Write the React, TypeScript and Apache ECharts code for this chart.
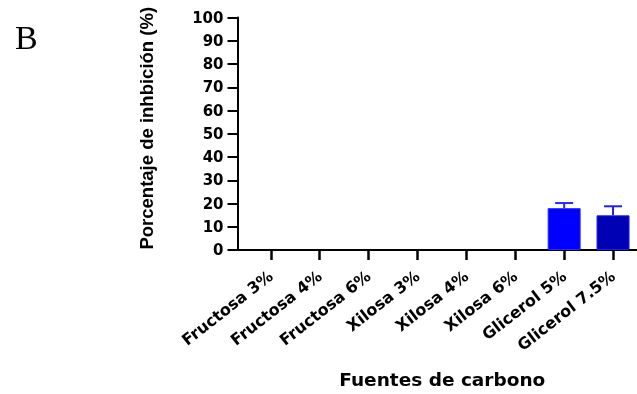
import React, { useEffect, useRef } from "react";
import * as echarts from "echarts";

const categories = [
  "Fructosa 3%",
  "Fructosa 4%",
  "Fructosa 6%",
  "Xilosa 3%",
  "Xilosa 4%",
  "Xilosa 6%",
  "Glicerol 5%",
  "Glicerol 7.5%",
];
const inhibition = [0, 0, 0, 0, 0, 0, 18.0, 14.9];
const errorUp = [0, 0, 0, 0, 0, 0, 2.2, 3.9];
const barColors = ["#0000FF", "#0000FF", "#0000FF", "#0000FF", "#0000FF", "#0000FF", "#0000FF", "#0000B4"];
const errColors = ["#2a2aff", "#2a2aff", "#2a2aff", "#2a2aff", "#2a2aff", "#2a2aff", "#2a2aff", "#1f1fe6"];
const yMin = 0;
const yMax = 100;
const yInterval = 10;

const X_OFFSET = 0.68;
const X_MAX = 8.17;

export default function App() {
  const ref = useRef<HTMLDivElement>(null);
  useEffect(() => {
    document.body.style.margin = "0";
    const chart = echarts.init(ref.current!, null, { renderer: "svg" });
    const xs = categories.map((_, i) => i + X_OFFSET);
    const sans = "DejaVu Sans";
    chart.setOption({
      animation: false,
      grid: { left: 237.5, right: 0, top: 17.5, bottom: 143.3, containLabel: false },
      xAxis: {
        type: "value",
        min: 0,
        max: X_MAX,
        splitLine: { show: false },
        axisLine: { show: true, lineStyle: { color: "#000", width: 2 } },
        axisTick: { show: true, length: 10, lineStyle: { color: "#000", width: 2.5 }, customValues: xs },
        axisLabel: {
          customValues: xs,
          rotate: 38,
          margin: 24,
          color: "#000",
          fontFamily: sans,
          fontWeight: "bold",
          fontSize: 16,
          formatter: (v: number) => categories[Math.round(v - X_OFFSET)] ?? "",
        },
        name: "Fuentes de carbono",
        nameLocation: "middle",
        nameGap: 120,
        nameTextStyle: { color: "#000", fontFamily: sans, fontWeight: "bold", fontSize: 18.5, padding: [0, 0, 0, 10] },
      },
      yAxis: {
        type: "value",
        min: yMin,
        max: yMax,
        interval: yInterval,
        splitLine: { show: false },
        axisLine: { show: true, lineStyle: { color: "#000", width: 2 } },
        axisTick: { show: true, length: 10, lineStyle: { color: "#000", width: 2 } },
        axisLabel: { margin: 14, color: "#000", fontFamily: sans, fontWeight: "bold", fontSize: 15 },
        name: "Porcentaje de inhbición (%)",
        nameLocation: "middle",
        nameGap: 82,
        nameTextStyle: {
          color: "#000",
          fontFamily: "Liberation Sans",
          fontWeight: "bold",
          fontSize: 18.5,
          padding: [0, 0, 0, 11],
        },
      },
      series: [
        {
          type: "bar",
          barWidth: 33,
          data: inhibition.map((v, i) => ({
            value: [xs[i], v],
            itemStyle: { color: barColors[i], borderColor: errColors[i], borderWidth: v > 0 ? 1 : 0 },
          })),
          z: 2,
        },
        {
          type: "custom",
          z: 3,
          data: inhibition.map((v, i) => [xs[i], v, errorUp[i]]),
          renderItem: (params: any, api: any) => {
            const x = api.value(0);
            const m = api.value(1);
            const e = api.value(2);
            if (!e) return null;
            const p0 = api.coord([x, m]);
            const p1 = api.coord([x, m + e]);
            const col = errColors[params.dataIndex];
            const half = 9;
            return {
              type: "group",
              children: [
                { type: "line", shape: { x1: p0[0], y1: p0[1], x2: p1[0], y2: p1[1] }, style: { stroke: col, lineWidth: 2 } },
                { type: "line", shape: { x1: p1[0] - half, y1: p1[1], x2: p1[0] + half, y2: p1[1] }, style: { stroke: col, lineWidth: 2 } },
              ],
            };
          },
        },
      ],
      graphic: [
        {
          type: "text",
          x: 15,
          y: 37,
          style: { text: "B", fontSize: 34, fontFamily: "Liberation Serif", fill: "#000", align: "left", verticalAlign: "middle" },
        },
      ],
    });
    return () => chart.dispose();
  }, []);
  return <div ref={ref} style={{ position: "fixed", left: 0, top: 0, width: 637, height: 394 }} />;
}
